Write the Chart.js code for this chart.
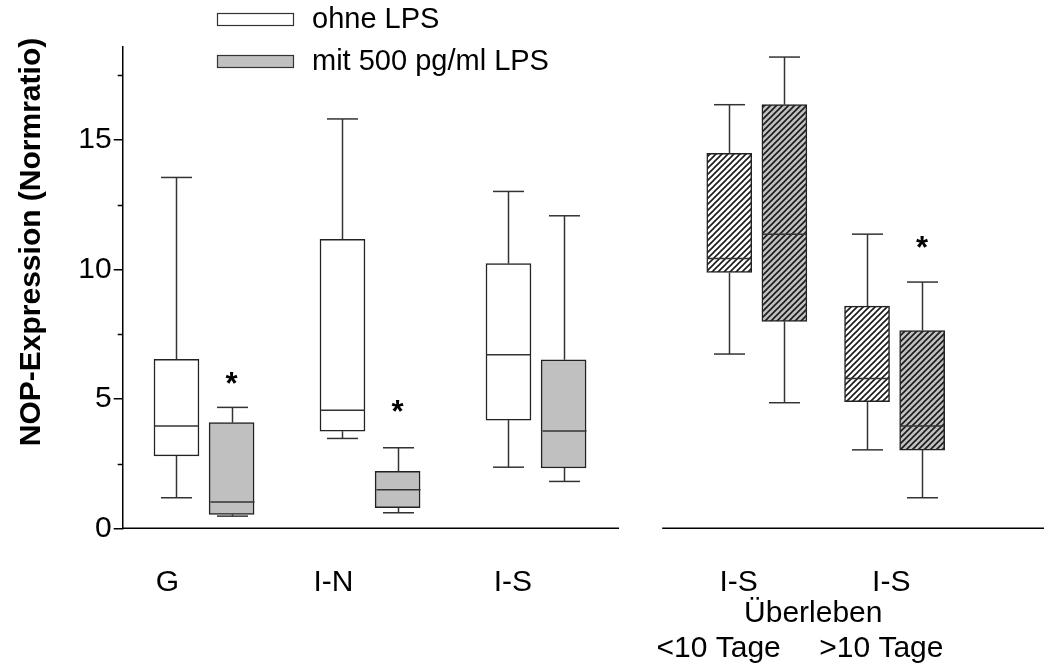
<!DOCTYPE html>
<html>
<head>
<meta charset="utf-8">
<script src="https://cdn.jsdelivr.net/npm/chart.js@4.4.1/dist/chart.umd.min.js"></script>
<style>
  html, body { margin: 0; padding: 0; background: #fff; }
  #wrap { width: 1044px; height: 665px; }
</style>
</head>
<body>
<div id="wrap"><canvas id="boxChart" width="1044" height="665"></canvas></div>
<script>
// groups along the x axis
const groups = ['G', 'I-N', 'I-S', 'I-S', 'I-S'];

// ohne LPS : whisker low, quartiles, median, whisker high
const ohneMin = [1.18, 3.47, 2.36, 6.73, 3.03];
const ohneQ1  = [2.80, 3.75, 4.18, 9.88, 4.89];
const ohneMed = [3.95, 4.56, 6.70, 10.42, 5.79];
const ohneQ3  = [6.53, 11.16, 10.22, 14.48, 8.58];
const ohneMax = [13.55, 15.81, 13.01, 16.36, 11.36];

// mit 500 pg/ml LPS
const mitMin = [0.47, 0.60, 1.81, 4.85, 1.18];
const mitQ1  = [0.54, 0.80, 2.33, 7.99, 3.02];
const mitMed = [1.02, 1.49, 3.76, 11.36, 3.95];
const mitQ3  = [4.08, 2.20, 6.51, 16.36, 7.64];
const mitMax = [4.67, 3.11, 12.07, 18.2, 9.51];

// significance stars above the LPS boxes
const sigMarks = [5.88, 4.80, null, null, 11.14];

const survivalLabels = ['Überleben', '<10 Tage', '>10 Tage'];
const yMinorTicks = [2.5, 7.5, 12.5, 17.5];

// layout (x axis units)
const groupPos = [0.49, 1.49, 2.49, 3.82, 4.65];
const labelPos = [0.27, 1.27, 2.35, 3.71, 4.63];
const survivalPos = [4.16, 3.59, 4.57];
const boxOff = 0.166;
const axisGap = [2.99, 3.25];
const hatched = [false, false, false, true, true];

Chart.defaults.font.family = '"Liberation Sans", Arial, sans-serif';
Chart.defaults.color = '#000';

const ctx0 = document.getElementById('boxChart').getContext('2d');

function hatch(bg) {
  const c = document.createElement('canvas');
  c.width = 6; c.height = 6;
  const g = c.getContext('2d');
  g.fillStyle = bg;
  g.fillRect(0, 0, 6, 6);
  g.strokeStyle = '#1a1a1a';
  g.lineWidth = 1.6;
  g.beginPath();
  g.moveTo(-2, 8); g.lineTo(8, -2);
  g.moveTo(-2, 2); g.lineTo(2, -2);
  g.moveTo(4, 8); g.lineTo(8, 4);
  g.stroke();
  return ctx0.createPattern(c, 'repeat');
}

const white = '#ffffff', gray = '#c0c0c0';
const whiteHatch = hatch(white), grayHatch = hatch(gray);

const series = [
  { label: 'ohne LPS', min: ohneMin, q1: ohneQ1, med: ohneMed, q3: ohneQ3, max: ohneMax, off: -boxOff, fill: white, pat: whiteHatch },
  { label: 'mit 500 pg/ml LPS', min: mitMin, q1: mitQ1, med: mitMed, q3: mitQ3, max: mitMax, off: boxOff, fill: gray, pat: grayHatch }
];

const boxExtras = {
  id: 'boxExtras',
  afterDatasetsDraw(chart) {
    const { ctx } = chart;
    const x = chart.scales.x, y = chart.scales.y;
    ctx.save();
    ctx.strokeStyle = '#333';
    ctx.lineWidth = 1.5;
    const line = (x1, y1, x2, y2) => { ctx.beginPath(); ctx.moveTo(x1, y1); ctx.lineTo(x2, y2); ctx.stroke(); };
    series.forEach(s => {
      groups.forEach((g, i) => {
        const cx = Math.round(x.getPixelForValue(groupPos[i] + s.off)) + 0.5;
        const pMax = y.getPixelForValue(s.max[i]), pQ3 = y.getPixelForValue(s.q3[i]);
        const pMin = y.getPixelForValue(s.min[i]), pQ1 = y.getPixelForValue(s.q1[i]);
        const pMed = y.getPixelForValue(s.med[i]);
        line(cx, pQ3, cx, pMax);
        line(cx - 15.5, pMax, cx + 15.5, pMax);
        line(cx, pQ1, cx, pMin);
        line(cx - 15.5, pMin, cx + 15.5, pMin);
        line(cx - 22, pMed, cx + 22, pMed);
      });
    });
    // significance stars
    ctx.fillStyle = '#000';
    ctx.font = 'bold 31px "Liberation Sans", Arial, sans-serif';
    ctx.textAlign = 'center';
    ctx.textBaseline = 'alphabetic';
    sigMarks.forEach((v, i) => {
      if (v === null) return;
      ctx.fillText('*', x.getPixelForValue(groupPos[i] + boxOff), y.getPixelForValue(v) + 18);
    });
    ctx.restore();
  },
  afterDraw(chart) {
    const { ctx, chartArea } = chart;
    const x = chart.scales.x, y = chart.scales.y;
    ctx.save();
    // broken x axis
    ctx.strokeStyle = '#000';
    ctx.lineWidth = 1.5;
    ctx.beginPath();
    ctx.moveTo(chartArea.left, chartArea.bottom);
    ctx.lineTo(x.getPixelForValue(axisGap[0]), chartArea.bottom);
    ctx.moveTo(x.getPixelForValue(axisGap[1]), chartArea.bottom);
    ctx.lineTo(chartArea.right, chartArea.bottom);
    // minor y ticks
    yMinorTicks.forEach(v => {
      const py = Math.round(y.getPixelForValue(v)) + 0.5;
      ctx.moveTo(chartArea.left - 5, py);
      ctx.lineTo(chartArea.left, py);
    });
    ctx.stroke();

    // survival labels under the right panel
    ctx.fillStyle = '#000';
    ctx.font = '30px "Liberation Sans", Arial, sans-serif';
    ctx.textAlign = 'center';
    ctx.textBaseline = 'alphabetic';
    ctx.fillText(survivalLabels[0], x.getPixelForValue(survivalPos[0]), chartArea.bottom + 94);
    ctx.fillText(survivalLabels[1], x.getPixelForValue(survivalPos[1]), chartArea.bottom + 129);
    ctx.fillText(survivalLabels[2], x.getPixelForValue(survivalPos[2]), chartArea.bottom + 129);

    // y title
    ctx.save();
    ctx.translate(32, 242);
    ctx.rotate(-Math.PI / 2);
    ctx.font = 'bold 30px "Liberation Sans", Arial, sans-serif';
    ctx.textBaseline = 'middle';
    ctx.fillText('NOP-Expression (Normratio)', 0, 0);
    ctx.restore();

    // legend
    ctx.font = '29px "Liberation Sans", Arial, sans-serif';
    ctx.textAlign = 'left';
    ctx.textBaseline = 'middle';
    ctx.lineWidth = 1.2;
    ctx.strokeStyle = '#333';
    series.forEach((s, i) => {
      const top = 13 + i * 42;
      ctx.fillStyle = s.fill;
      ctx.fillRect(217, top, 77, 13);
      ctx.strokeRect(217.5, top + 0.5, 76, 12);
      ctx.fillStyle = '#000';
      ctx.fillText(s.label, 312, top + 7);
    });
    ctx.restore();
  }
};

const datasets = series.map(s => ({
  label: s.label,
  data: groups.map((g, i) => ({ x: groupPos[i] + s.off, y: [s.q1[i], s.q3[i]] })),
  backgroundColor: groups.map((g, i) => hatched[i] ? s.pat : s.fill),
  borderColor: '#222',
  borderWidth: 1.5,
  borderSkipped: false,
  barThickness: 45,
  grouped: false
}));

new Chart(ctx0, {
  type: 'bar',
  data: { datasets: datasets },
  options: {
    responsive: false,
    animation: false,
    devicePixelRatio: 1,
    layout: { padding: { top: 46.7, right: 0, bottom: 0, left: 0 } },
    plugins: { legend: { display: false }, tooltip: { enabled: false } },
    scales: {
      x: {
        type: 'linear',
        min: 0,
        max: 5.55,
        offset: false,
        grid: { display: false },
        border: { display: false },
        afterBuildTicks: s => { s.ticks = labelPos.map(v => ({ value: v })); },
        afterFit: s => { s.height = 136.7; },
        ticks: {
          autoSkip: false,
          maxRotation: 0,
          padding: 28,
          font: { size: 30 },
          callback: (v, i) => groups[i]
        }
      },
      y: {
        min: 0,
        max: 18.6,
        afterFit: s => { s.width = 122.7; },
        border: { display: true, color: '#000', width: 1.5 },
        grid: { display: true, drawOnChartArea: false, drawTicks: true, tickLength: 9, color: '#000', lineWidth: 1.5 },
        ticks: { stepSize: 5, includeBounds: false, padding: 2, font: { size: 30 } }
      }
    }
  },
  plugins: [boxExtras]
});
</script>
</body>
</html>
